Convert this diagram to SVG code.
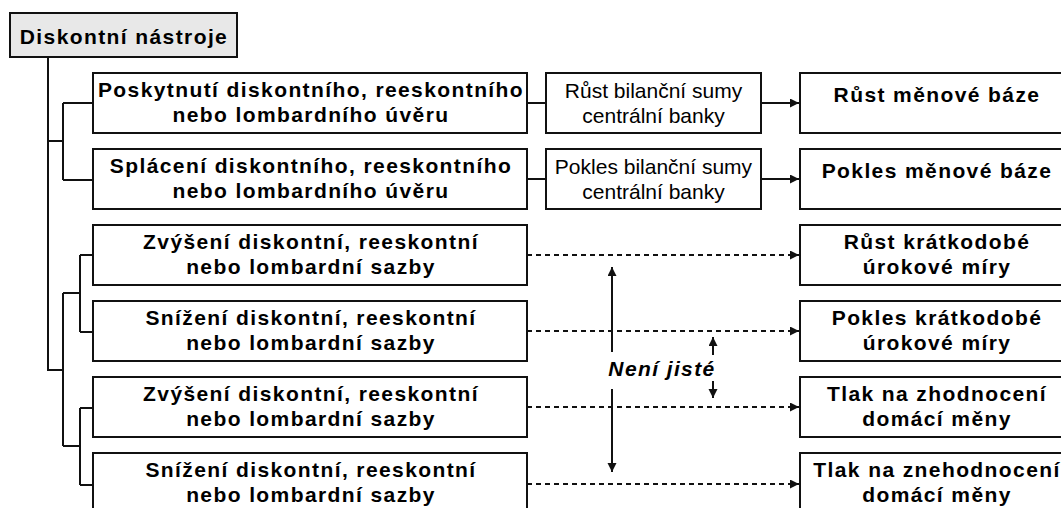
<svg xmlns="http://www.w3.org/2000/svg" width="1061" height="508" viewBox="0 0 1061 508">
<style>
.box{fill:#fff;stroke:#111;stroke-width:2}
.root{fill:#e8e8e8;stroke:#111;stroke-width:2}
.b{font-family:"Liberation Sans",Arial,sans-serif;font-weight:bold;font-size:21px;letter-spacing:1.4px;fill:#000;text-anchor:middle}
.r{font-family:"Liberation Sans",Arial,sans-serif;font-size:21px;fill:#000;text-anchor:middle}
.i{font-family:"Liberation Sans",Arial,sans-serif;font-weight:bold;font-style:italic;font-size:21px;letter-spacing:1.4px;fill:#000;text-anchor:middle}
.ln{fill:none;stroke:#111;stroke-width:2}
.dash{fill:none;stroke:#111;stroke-width:2;stroke-dasharray:5 4}
</style>
<defs>
<marker id="ah" markerUnits="userSpaceOnUse" markerWidth="10" markerHeight="10" refX="9" refY="4.5" orient="auto">
<path d="M0,0 L9,4.5 L0,9 z" fill="#111"/>
</marker>
</defs>
<rect width="1061" height="508" fill="#fff"/>
<g id="connectors">
<path class="ln" d="M48,57 V370 H63"/>
<path class="ln" d="M48,141 H63 M63,103 V180 M63,103 H93 M63,180 H93"/>
<path class="ln" d="M63,293 V446 M63,293 H80 M63,446 H80"/>
<path class="ln" d="M80,255 V332 M80,255 H93 M80,332 H93"/>
<path class="ln" d="M80,408 V485 M80,408 H93 M80,485 H93"/>
<path class="ln" d="M527,103 H546 M527,179 H546"/>
<path class="ln" d="M761,103 H799" marker-end="url(#ah)"/>
<path class="ln" d="M761,179 H799" marker-end="url(#ah)"/>
<path class="dash" d="M527,255 H791"/>
<path class="dash" d="M527,331 H791"/>
<path class="dash" d="M527,407 H791"/>
<path class="dash" d="M527,484 H791"/>
<path class="ln" d="M790,255 H799" marker-end="url(#ah)"/>
<path class="ln" d="M790,331 H799" marker-end="url(#ah)"/>
<path class="ln" d="M790,407 H799" marker-end="url(#ah)"/>
<path class="ln" d="M790,484 H799" marker-end="url(#ah)"/>
<path class="ln" d="M612,352 V267" marker-end="url(#ah)"/>
<path class="ln" d="M612,389 V472" marker-end="url(#ah)"/>
<path class="ln" d="M713,355 V337" marker-end="url(#ah)"/>
<path class="ln" d="M713,381 V398" marker-end="url(#ah)"/>
</g>
<g id="root">
<rect class="root" x="10" y="13" width="227" height="44"/>
<text class="b" x="124" y="44">Diskontní nástroje</text>
</g>
<g id="n1">
<rect class="box" x="93" y="73" width="434" height="60"/>
<text class="b" x="311" y="97">Poskytnutí diskontního, reeskontního</text>
<text class="b" x="311" y="122">nebo lombardního úvěru</text>
</g>
<g id="n2">
<rect class="box" x="93" y="149" width="434" height="60"/>
<text class="b" x="311" y="173">Splácení diskontního, reeskontního</text>
<text class="b" x="311" y="198">nebo lombardního úvěru</text>
</g>
<g id="n3">
<rect class="box" x="93" y="225" width="434" height="60"/>
<text class="b" x="311" y="249">Zvýšení diskontní, reeskontní</text>
<text class="b" x="311" y="274">nebo lombardní sazby</text>
</g>
<g id="n4">
<rect class="box" x="93" y="301" width="434" height="60"/>
<text class="b" x="311" y="325">Snížení diskontní, reeskontní</text>
<text class="b" x="311" y="350">nebo lombardní sazby</text>
</g>
<g id="n5">
<rect class="box" x="93" y="377" width="434" height="60"/>
<text class="b" x="311" y="401">Zvýšení diskontní, reeskontní</text>
<text class="b" x="311" y="426">nebo lombardní sazby</text>
</g>
<g id="n6">
<rect class="box" x="93" y="453" width="434" height="60"/>
<text class="b" x="311" y="477">Snížení diskontní, reeskontní</text>
<text class="b" x="311" y="502">nebo lombardní sazby</text>
</g>
<g id="m1">
<rect class="box" x="546" y="73" width="215" height="60"/>
<text class="r" x="653.5" y="98">Růst bilanční sumy</text>
<text class="r" x="653.5" y="123">centrální banky</text>
</g>
<g id="m2">
<rect class="box" x="546" y="149" width="215" height="60"/>
<text class="r" x="653.5" y="174">Pokles bilanční sumy</text>
<text class="r" x="653.5" y="199">centrální banky</text>
</g>
<g id="r1">
<rect class="box" x="800" y="73" width="272" height="60"/>
<text class="b" x="937" y="102">Růst měnové báze</text>
</g>
<g id="r2">
<rect class="box" x="800" y="149" width="272" height="60"/>
<text class="b" x="937" y="178">Pokles měnové báze</text>
</g>
<g id="r3">
<rect class="box" x="800" y="225" width="272" height="60"/>
<text class="b" x="937" y="249">Růst krátkodobé</text>
<text class="b" x="937" y="274">úrokové míry</text>
</g>
<g id="r4">
<rect class="box" x="800" y="301" width="272" height="60"/>
<text class="b" x="937" y="325">Pokles krátkodobé</text>
<text class="b" x="937" y="350">úrokové míry</text>
</g>
<g id="r5">
<rect class="box" x="800" y="377" width="272" height="60"/>
<text class="b" x="937" y="401">Tlak na zhodnocení</text>
<text class="b" x="937" y="426">domácí měny</text>
</g>
<g id="r6">
<rect class="box" x="800" y="453" width="272" height="60"/>
<text class="b" x="937" y="477">Tlak na znehodnocení</text>
<text class="b" x="937" y="502">domácí měny</text>
</g>
<g id="label">
<text class="i" x="662" y="376">Není jisté</text>
</g>
</svg>
